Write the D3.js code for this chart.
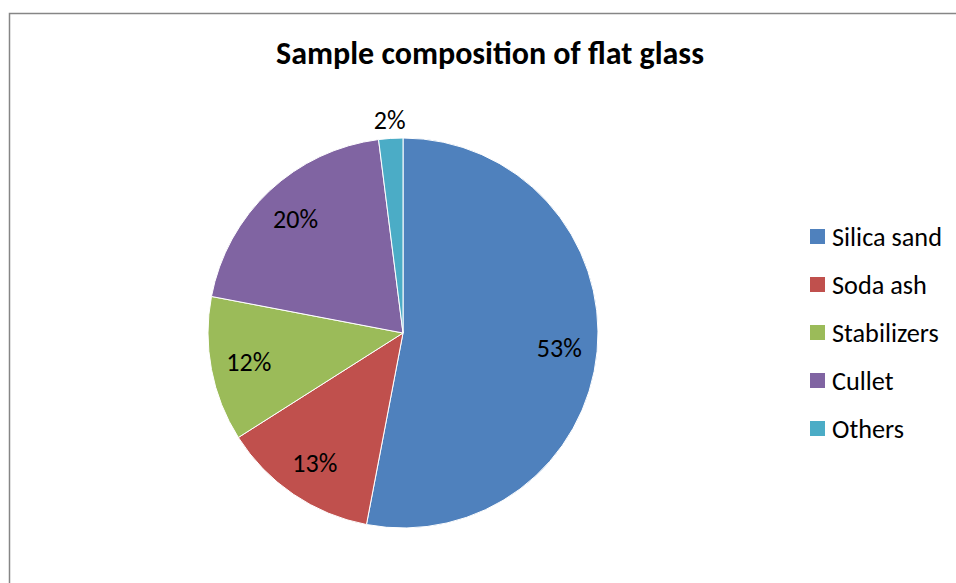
<!DOCTYPE html>
<html><head><meta charset="utf-8">
<script src="https://d3js.org/d3.v7.min.js"></script>
<style>html,body{margin:0;padding:0;background:#fff;}svg{display:block;}</style>
</head><body>
<svg id="c" width="956" height="583"></svg>
<script>
const categories = ["Silica sand", "Soda ash", "Stabilizers", "Cullet", "Others"];
const values = [53, 13, 12, 20, 2];
const colors = ["#4F81BD", "#C0504D", "#9BBB59", "#8064A2", "#4BACC6"];
const labels = ["53%", "13%", "12%", "20%", "2%"];
const title = "Sample composition of flat glass";

const font = "Carlito, Calibri, Lato, 'Open Sans', sans-serif";
const svg = d3.select("#c");

svg.append("rect").attr("x", 9.5).attr("y", 13.5).attr("width", 1000).attr("height", 700)
  .attr("fill", "#fff").attr("stroke", "#868686").attr("stroke-width", 1.5);

function fit(sel, base, target) {
  const w = sel.node().getComputedTextLength();
  return base * target / w;
}

// title, fit to width
const t = svg.append("text").attr("x", 490).attr("y", 64).attr("text-anchor", "middle")
  .attr("font-family", font).attr("font-weight", "bold").attr("font-size", 24).attr("fill", "#000").text(title);
t.attr("font-size", fit(t, 24, 428));

const cx = 403, cy = 333, R = 195;
const data = categories.map((c, i) => ({ name: c, value: values[i], color: colors[i], label: labels[i] }));
const pie = d3.pie().value(d => d.value).sort(null);
const arcs = pie(data);
const arc = d3.arc().innerRadius(0).outerRadius(R);
const g = svg.append("g").attr("transform", `translate(${cx},${cy})`);
g.selectAll("path").data(arcs).join("path").attr("d", arc).attr("fill", d => d.data.color)
  .attr("stroke", "#fff").attr("stroke-width", 1);

// measure label font size
const probe = svg.append("text").attr("font-family", font).attr("font-size", 20).text("53%");
const labSize = fit(probe, 20, 45);
probe.remove();

const inLab = d3.arc().innerRadius(157).outerRadius(157);
const outLab = d3.arc().innerRadius(213).outerRadius(213);
g.selectAll("text.lab").data(arcs).join("text").attr("class", "lab")
  .attr("transform", d => {
    const p = (d.data.value < 5 ? outLab : inLab).centroid(d);
    return `translate(${p[0]},${p[1]})`;
  })
  .attr("text-anchor", "middle").attr("dominant-baseline", "central")
  .attr("font-family", font).attr("font-size", labSize).attr("fill", "#000")
  .text(d => d.data.label);

const probe2 = svg.append("text").attr("font-family", font).attr("font-size", 20).text("Silica sand");
const legSize = fit(probe2, 20, 110);
probe2.remove();

const leg = svg.append("g");
const items = leg.selectAll("g").data(data).join("g")
  .attr("transform", (d, i) => `translate(810,${229 + i * 48})`);
items.append("rect").attr("width", 15).attr("height", 15).attr("fill", d => d.color);
items.append("text").attr("x", 22).attr("y", 7.5).attr("dominant-baseline", "central")
  .attr("font-family", font).attr("font-size", legSize).attr("fill", "#000").text(d => d.name);
</script>
</body></html>
